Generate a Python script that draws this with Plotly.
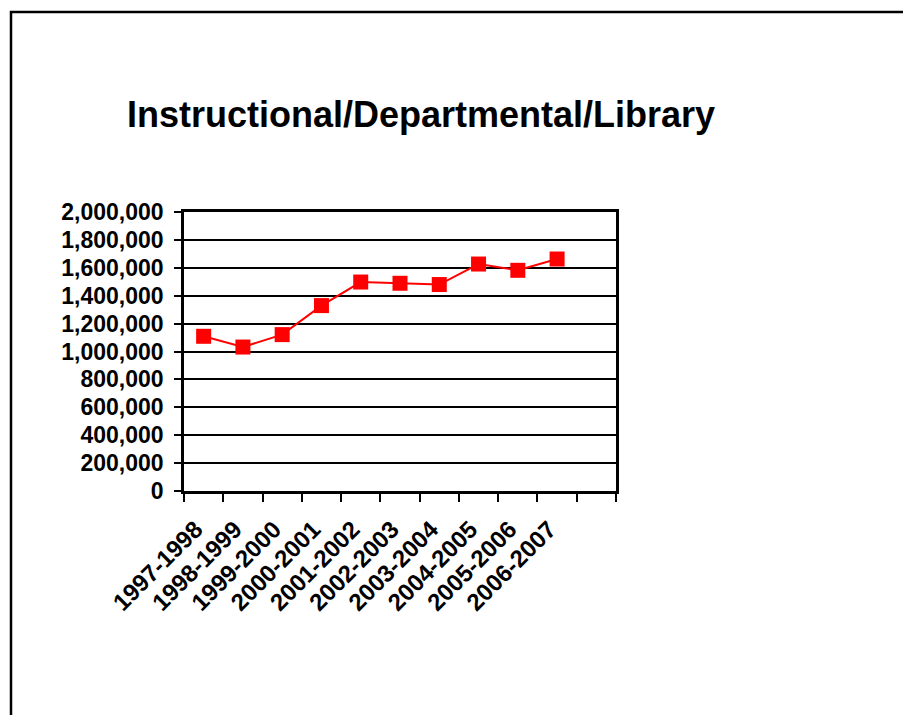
import plotly.graph_objects as go

# data
years = ["1997-1998", "1998-1999", "1999-2000", "2000-2001", "2001-2002",
         "2002-2003", "2003-2004", "2004-2005", "2005-2006", "2006-2007"]
amounts = [1109000, 1032000, 1121000, 1329000, 1498000,
           1489000, 1480000, 1627000, 1582000, 1663000]
# one empty slot at the end of the category axis, as in the original
categories = years + [" "]
y_ticks = list(range(0, 2000001, 200000))

# the page has an 8px body margin, so work in screen pixels and shift
OFF = 8
W, H = 911 - OFF, 715 - OFF
L, T = 184 - OFF, 212 - OFF
pw, ph = 432, 279
R, B = W - L - pw, H - T - ph

def px_x(x):
    return (x - OFF - L) / pw

def px_y(y):
    return (T + ph - (y - OFF)) / ph

font_family = "Liberation Sans, Arial, sans-serif"
bold = dict(family=font_family, color="black", weight="bold")

fig = go.Figure()
fig.add_trace(go.Scatter(
    x=years, y=amounts, mode="lines+markers",
    line=dict(color="#FF0000", width=2),
    marker=dict(symbol="square", size=15, color="#FF0000"),
    showlegend=False,
))

fig.update_layout(
    width=W, height=H,
    margin=dict(l=L, r=R, t=T, b=B),
    paper_bgcolor="white",
    plot_bgcolor="white",
    font=dict(family=font_family, size=21, color="black"),
    title=dict(
        text="<b>Instructional/Departmental/Library</b>",
        font=dict(family=font_family, size=36, color="black"),
        x=(421 - OFF) / W, xanchor="center",
        y=1 - (114 - OFF) / H, yanchor="middle",
    ),
    shapes=[
        # outer frame of the chart area (right and bottom run off the page)
        dict(type="rect", xref="paper", yref="paper",
             x0=px_x(11), x1=px_x(940), y0=px_y(740), y1=px_y(12),
             line=dict(color="black", width=2.5), layer="above"),
    ],
)

fig.update_xaxes(
    type="category", categoryorder="array", categoryarray=categories,
    range=[-0.5, len(categories) - 0.5],
    tickson="boundaries", ticks="outside", ticklen=8, tickwidth=2, tickcolor="black",
    tickangle=-45, tickfont=dict(bold, size=24),
    ticklabelstandoff=12, ticklabelshift=-8,
    showline=True, linewidth=2.5, linecolor="black", mirror=True,
    showgrid=False, zeroline=False,
)
fig.update_yaxes(
    range=[0, 2000000], tickvals=y_ticks, tickformat=",d",
    ticks="outside", ticklen=7, tickwidth=2, tickcolor="black",
    tickfont=dict(bold, size=23), ticklabelstandoff=6,
    showline=True, linewidth=2.5, linecolor="black", mirror=True,
    showgrid=True, gridcolor="black", gridwidth=2, zeroline=False,
)

fig.write_html("out.html")
